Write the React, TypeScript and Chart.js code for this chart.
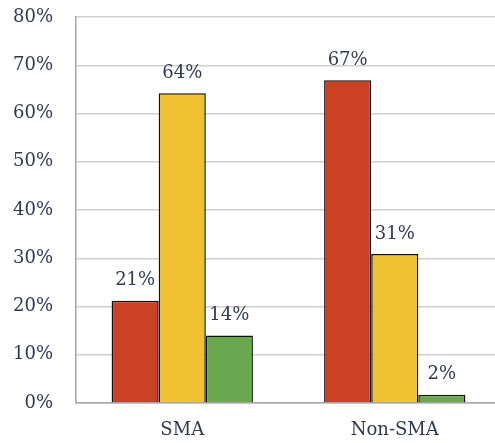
import React, { useEffect, useRef } from "react";
import { Chart, registerables } from "chart.js";

Chart.register(...registerables);

const categories = ["SMA", "Non-SMA"];
const redValues = [21.2, 66.9];
const yellowValues = [64.2, 30.9];
const greenValues = [14.0, 1.7];
const yTicks = [0, 10, 20, 30, 40, 50, 60, 70, 80];

const FONT = "'DejaVu Serif', serif";
const TEXT = "#2E3A52";

const labelPlugin = {
  id: "barLabels",
  afterDatasetsDraw(chart: any) {
    const ctx = chart.ctx;
    ctx.save();
    ctx.font = `18px ${FONT}`;
    ctx.fillStyle = TEXT;
    ctx.textAlign = "center";
    ctx.textBaseline = "middle";
    chart.data.datasets.forEach((ds: any, i: number) => {
      const meta = chart.getDatasetMeta(i);
      meta.data.forEach((bar: any, j: number) => {
        const v = ds.data[j];
        ctx.fillText(Math.round(v) + "%", bar.x, bar.y - 20);
      });
    });
    ctx.restore();
  },
};

export default function App() {
  const ref = useRef<HTMLCanvasElement>(null);
  useEffect(() => {
    if (!ref.current) return;
    const border = "#111111";
    const chart = new Chart(ref.current, {
      type: "bar",
      data: {
        labels: categories,
        datasets: [
          { data: redValues, backgroundColor: "#CC4125", borderColor: border, borderWidth: 1.5 },
          { data: yellowValues, backgroundColor: "#F0C232", borderColor: border, borderWidth: 1.5 },
          { data: greenValues, backgroundColor: "#6AA84F", borderColor: border, borderWidth: 1.5 },
        ],
      },
      options: {
        responsive: false,
        animation: false,
        events: [],
        layout: { padding: { top: 17, right: 0, bottom: 0, left: 0 } },
        datasets: { bar: { categoryPercentage: 0.665, barPercentage: 1 } },
        plugins: { legend: { display: false }, tooltip: { enabled: false } },
        scales: {
          x: {
            grid: { display: false },
            border: { display: true, color: "#a6a6a6", width: 1.5 },
            ticks: { font: { family: FONT, size: 18 }, color: TEXT, padding: 9 },
            afterFit(scale: any) {
              scale.height = 40;
              scale.paddingLeft = 0;
              scale.paddingRight = 0;
            },
          },
          y: {
            min: 0,
            max: 80,
            afterBuildTicks(scale: any) {
              scale.ticks = yTicks.map((v) => ({ value: v }));
            },
            grid: { color: "#d0d0d0", lineWidth: 1.5, drawTicks: false },
            border: { display: true, color: "#a6a6a6", width: 1.5 },
            ticks: {
              font: { family: FONT, size: 18 },
              color: TEXT,
              padding: 23,
              callback: (v: any) => v + "%",
            },
            afterFit(scale: any) {
              scale.width = 76;
              scale.paddingTop = 0;
              scale.paddingBottom = 0;
            },
          },
        },
      },
      plugins: [labelPlugin],
    });
    return () => chart.destroy();
  }, []);
  return (
    <div style={{ position: "fixed", left: 0, top: 0, width: 495, height: 443, overflow: "hidden", background: "#fff" }}>
      <canvas ref={ref} width={501} height={443} style={{ display: "block" }} />
    </div>
  );
}
